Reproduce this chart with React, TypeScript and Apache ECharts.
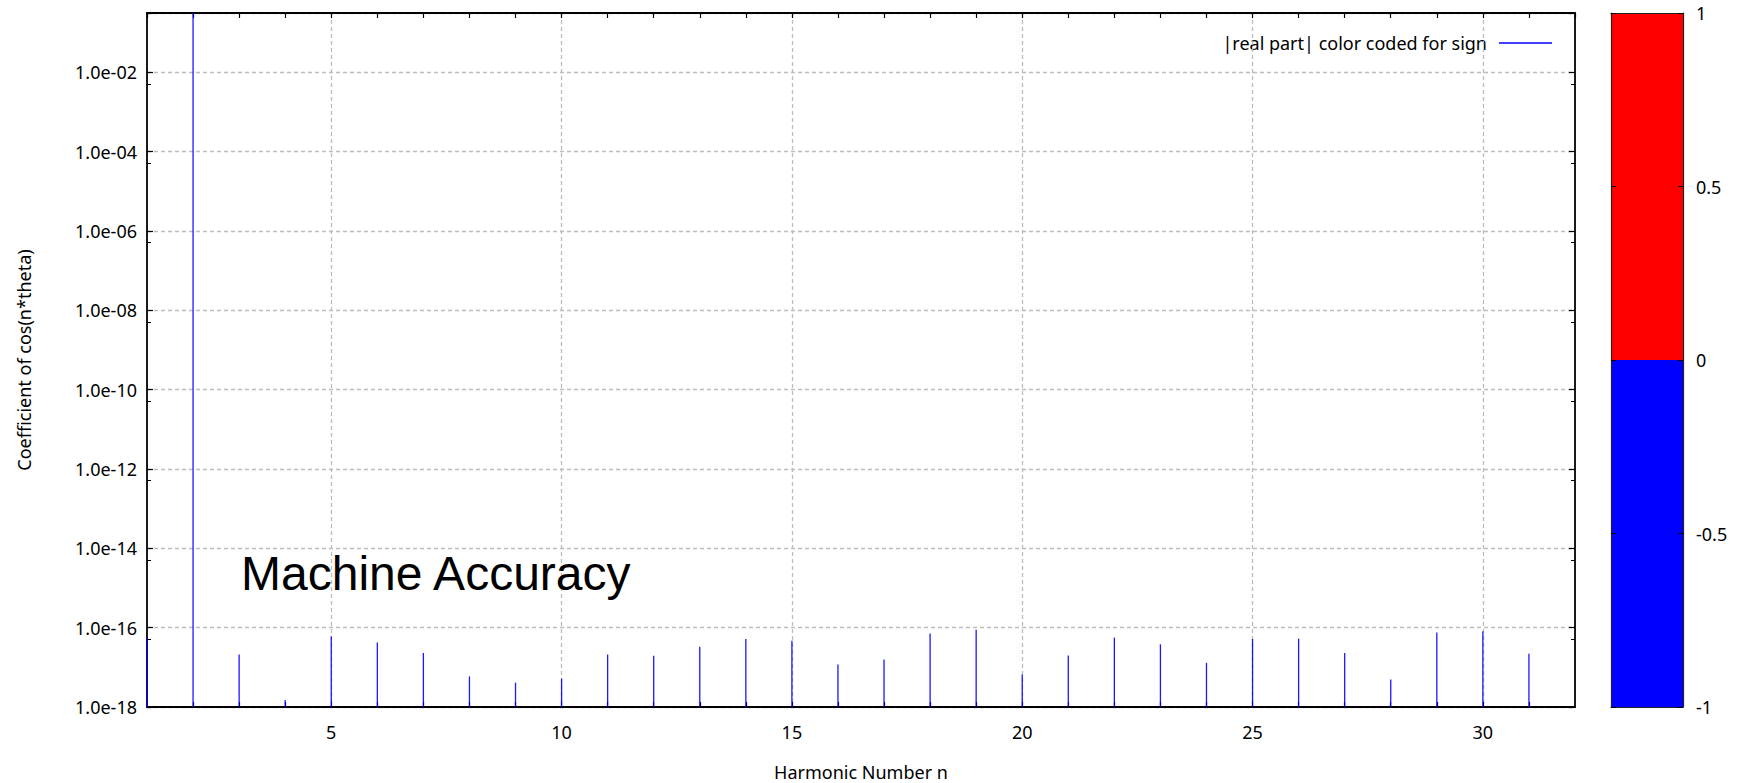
import React, { useEffect, useRef } from "react";
import * as echarts from "echarts";

const harmonicN = [1, 2, 3, 4, 5, 6, 7, 8, 9, 10, 11, 12, 13, 14, 15, 16, 17, 18, 19, 20, 21, 22, 23, 24, 25, 26, 27, 28, 29, 30, 31];
const realPartAbs = [
  5.6e-17, 0.31, 2.1e-17, 1.5e-18, 6.0e-17, 4.2e-17, 2.3e-17, 5.9e-18, 4.1e-18, 5.2e-18,
  2.1e-17, 1.95e-17, 3.3e-17, 5.2e-17, 4.7e-17, 1.17e-17, 1.57e-17, 7.1e-17, 8.8e-17, 6.6e-18,
  2.0e-17, 5.6e-17, 3.8e-17, 1.3e-17, 5.2e-17, 5.3e-17, 2.3e-17, 4.9e-18, 7.6e-17, 8.1e-17,
  2.2e-17,
];
const signs = [-1, -1, -1, -1, -1, -1, -1, -1, -1, -1, -1, -1, -1, -1, -1, -1, -1, -1, -1, -1, -1, -1, -1, -1, -1, -1, -1, -1, -1, -1, -1];
const cbValues = [1, -1];
const cbColors = ["#ff0000", "#0000ff"];
const xRange = [1, 32];
const yRange = [1e-18, 0.31];
const legendName = "|real part| color coded for sign";
const xTitle = "Harmonic Number n";
const yTitle = "Coefficient of cos(n*theta)";
const annotation = "Machine Accuracy";

const FONT = '"Noto Sans", "DejaVu Sans", sans-serif';
const GRID_COLOR = "#bdbdbd";

function fmtLog(v: number): string {
  if (!(v > 0)) return "";
  const l = Math.log10(v);
  const e = Math.round(l);
  if (Math.abs(l - e) > 1e-6) return "";
  if (e % 2 !== 0 || e > -2) return "";
  const a = Math.abs(e);
  return "1.0e" + (e < 0 ? "-" : "+") + (a < 10 ? "0" + a : String(a));
}

export default function App() {
  const ref = useRef<HTMLDivElement>(null);
  useEffect(() => {
    if (!ref.current) return;
    const chart = echarts.init(ref.current, undefined, { renderer: "svg" });
    const data = harmonicN.map((n, i) => [n, realPartAbs[i], signs[i]]);
    const xSplitColors = ["rgba(0,0,0,0)", "rgba(0,0,0,0)", "rgba(0,0,0,0)", "rgba(0,0,0,0)", GRID_COLOR];
    const axisLineStyle = { color: "#000", width: 1.8 };
    chart.setOption({
      animation: false,
      backgroundColor: "#fff",
      textStyle: { fontFamily: FONT },
      grid: [
        { left: 147, right: 162, top: 13, bottom: 76, containLabel: false, outerBoundsMode: "none" },
        { left: 1611, width: 72, top: 13, bottom: 76, containLabel: false, outerBoundsMode: "none" },
      ],
      legend: {
        data: [{ name: legendName, icon: "rect" }],
        right: 180,
        top: 29,
        align: "right",
        itemWidth: 53,
        itemHeight: 1.5,
        textStyle: { fontSize: 18, fontFamily: FONT, color: "#000", padding: [0, 7, 0, 0] },
      },
      xAxis: [
        {
          type: "value",
          gridIndex: 0,
          min: xRange[0],
          max: xRange[1],
          interval: 1,
          position: "bottom",
          name: xTitle,
          nameLocation: "middle",
          nameGap: 56,
          nameTextStyle: { fontSize: 18, fontFamily: FONT, color: "#000" },
          axisLine: { show: true, onZero: false, lineStyle: axisLineStyle },
          axisTick: { show: true, inside: true, length: 5, lineStyle: { color: "#000", width: 1.2 } },
          axisLabel: {
            fontSize: 18,
            fontFamily: FONT,
            color: "#000",
            margin: 16,
            showMinLabel: false,
            showMaxLabel: false,
            formatter: (v: number) => (Math.round(v) % 5 === 0 ? String(Math.round(v)) : ""),
          },
          splitLine: { show: true, lineStyle: { color: xSplitColors, type: [4, 3], width: 1.3 } },
          z: 5,
        },
        {
          type: "value",
          gridIndex: 0,
          min: xRange[0],
          max: xRange[1],
          interval: 1,
          position: "top",
          axisLine: { show: true, onZero: false, lineStyle: axisLineStyle },
          axisTick: { show: true, inside: true, length: 5, lineStyle: { color: "#000", width: 1.2 } },
          axisLabel: { show: false },
          splitLine: { show: false },
          z: 5,
        },
        {
          type: "category",
          gridIndex: 1,
          data: ["cb"],
          position: "bottom",
          axisLine: { show: true, onZero: false, lineStyle: { color: "#222", width: 1.2 } },
          axisTick: { show: false },
          axisLabel: { show: false },
          splitLine: { show: false },
          z: 5,
        },
        {
          type: "category",
          gridIndex: 1,
          data: ["cb"],
          position: "top",
          axisLine: { show: true, onZero: false, lineStyle: { color: "#222", width: 1.2 } },
          axisTick: { show: false },
          axisLabel: { show: false },
          splitLine: { show: false },
          z: 5,
        },
      ],
      yAxis: [
        {
          type: "log",
          logBase: 10,
          gridIndex: 0,
          min: yRange[0],
          max: yRange[1],
          interval: 2,
          position: "left",
          name: yTitle,
          nameLocation: "middle",
          nameGap: 114,
          nameTextStyle: { fontSize: 18, fontFamily: FONT, color: "#000" },
          axisLine: { show: true, onZero: false, lineStyle: axisLineStyle },
          axisTick: { show: true, inside: true, length: 6, lineStyle: { color: "#000", width: 1.2 } },
          minorTick: { show: true, splitNumber: 2, length: 4, lineStyle: { color: "#000", width: 1 } },
          axisLabel: { fontSize: 18, fontFamily: FONT, color: "#000", margin: 10, formatter: fmtLog },
          splitLine: { show: true, lineStyle: { color: GRID_COLOR, type: [4, 3], width: 1.3 } },
          z: 5,
        },
        {
          type: "log",
          logBase: 10,
          gridIndex: 0,
          min: yRange[0],
          max: yRange[1],
          interval: 2,
          position: "right",
          axisLine: { show: true, onZero: false, lineStyle: axisLineStyle },
          axisTick: { show: true, inside: true, length: 6, lineStyle: { color: "#000", width: 1.2 } },
          minorTick: { show: true, splitNumber: 2, length: 4, lineStyle: { color: "#000", width: 1 } },
          axisLabel: { show: false },
          splitLine: { show: false },
          z: 5,
        },
        {
          type: "value",
          gridIndex: 1,
          min: -1,
          max: 1,
          interval: 0.5,
          position: "right",
          axisLine: { show: true, onZero: false, lineStyle: { color: "#222", width: 1.2 } },
          axisTick: { show: true, inside: true, length: 5, lineStyle: { color: "#000", width: 1 } },
          axisLabel: { fontSize: 18, fontFamily: FONT, color: "#000", margin: 13 },
          splitLine: { show: false },
          z: 5,
        },
        {
          type: "value",
          gridIndex: 1,
          min: -1,
          max: 1,
          interval: 0.5,
          position: "left",
          axisLine: { show: true, onZero: false, lineStyle: { color: "#222", width: 1.2 } },
          axisTick: { show: true, inside: true, length: 5, lineStyle: { color: "#000", width: 1 } },
          axisLabel: { show: false },
          splitLine: { show: false },
          z: 5,
        },
      ],
      series: [
        {
          type: "custom",
          name: legendName,
          xAxisIndex: 0,
          yAxisIndex: 0,
          clip: false,
          itemStyle: { color: "#0000ff" },
          encode: { x: 0, y: 1 },
          data,
          renderItem: (params: any, api: any) => {
            const x = api.value(0);
            const y = Math.min(api.value(1), yRange[1]);
            const s = api.value(2);
            const top = api.coord([x, y]);
            const base = api.coord([x, yRange[0]]);
            return {
              type: "line",
              shape: { x1: base[0], y1: base[1], x2: top[0], y2: top[1] },
              style: { stroke: s >= 0 ? "#ff0000" : "#0000ff", lineWidth: 1.3, opacity: 0.9 },
            };
          },
          z: 6,
        },
        {
          type: "bar",
          name: "cbPos",
          xAxisIndex: 2,
          yAxisIndex: 2,
          data: [cbValues[0]],
          barWidth: "100%",
          barGap: "-100%",
          itemStyle: { color: cbColors[0] },
          z: 1,
        },
        {
          type: "bar",
          name: "cbNeg",
          xAxisIndex: 2,
          yAxisIndex: 2,
          data: [cbValues[1]],
          barWidth: "100%",
          barGap: "-100%",
          itemStyle: { color: cbColors[1] },
          z: 1,
        },
      ],
      graphic: [
        {
          type: "text",
          x: 241,
          y: 573,
          z: 10,
          style: {
            text: annotation,
            font: '48px "Liberation Sans", Arial, sans-serif',
            fill: "#000",
            verticalAlign: "middle",
            align: "left",
          },
        },
      ],
    });
    return () => chart.dispose();
  }, []);
  return (
    <div
      ref={ref}
      style={{ position: "fixed", left: 0, top: 0, width: 1737, height: 783, background: "#fff" }}
    />
  );
}
